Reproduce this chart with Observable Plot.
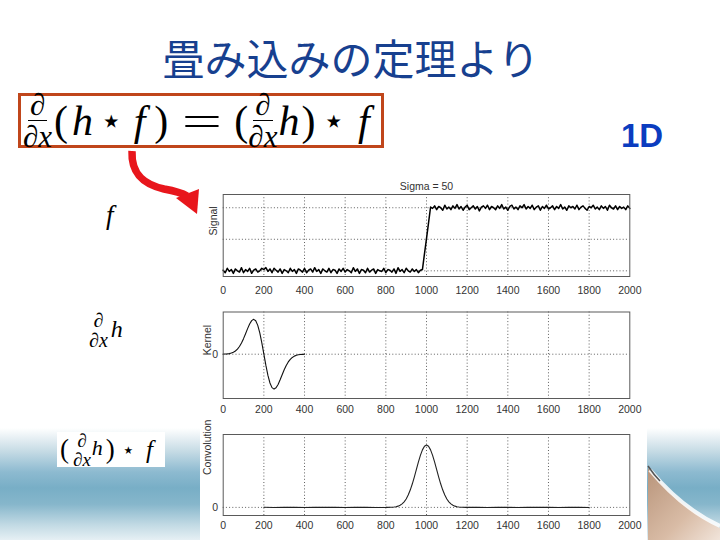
<!DOCTYPE html>
<html>
<head>
<meta charset="utf-8">
<script src="https://cdn.jsdelivr.net/npm/d3@7"></script>
<script src="https://cdn.jsdelivr.net/npm/@observablehq/plot@0.6"></script>
<style>
  html, body { margin: 0; padding: 0; background: #fff; }
  #page { position: relative; width: 720px; height: 540px; overflow: hidden; background: #fff; }
  .abs { position: absolute; }
  .serif, .serif i, .serif span { font-family: 'Liberation Serif', 'DejaVu Serif', 'Times New Roman', serif; color: #000; }
  .frac { display: inline-flex; flex-direction: column; align-items: center; line-height: 1; vertical-align: middle; }
  .frac .num { border-bottom: 1.4px solid #000; padding: 0 2px; }
  .serif .star { font-family: 'DejaVu Sans', sans-serif; }
  .eq { display: inline-block; width: 44px; text-align: center; transform: scale(1.7, 1); }
</style>
</head>
<body>
<div id="page">
  <!-- slide background band -->
  <div class="abs" style="left:0;top:420px;width:720px;height:120px;background:linear-gradient(to bottom,#ffffff 0px,#ffffff 8px,#c9dde6 30px,#8dbad0 52px,#78aec6 68px,#86b6cb 84px,#c2dae4 105px,#e6f0f4 120px);"></div>
  <svg class="abs" style="left:0;top:0" width="720" height="540">
    <defs>
      <linearGradient id="tan" x1="0" y1="0" x2="1" y2="1">
        <stop offset="0" stop-color="#b8947a"/>
        <stop offset="0.6" stop-color="#d9bca6"/>
        <stop offset="1" stop-color="#f1e4da"/>
      </linearGradient>
    </defs>
    <path d="M648,468 C668,492 692,514 720,528 L720,540 L648,540 Z" fill="url(#tan)"/>
    <path d="M650,470 C670,494 694,514 720,526" fill="none" stroke="#ffffff" stroke-width="4" stroke-opacity="0.85"/>
    <path d="M648,466 C652,472 656,477 660,481" fill="none" stroke="#555" stroke-width="1.5"/>
    <!-- red arrow -->
    <path d="M132,151 C131,176 146,185 164,189 C175,191 182,193 187,196" fill="none" stroke="#e8161c" stroke-width="7.5"/>
    <polygon points="176,198 199,189 197,214" fill="#e8161c"/>
  </svg>
  <!-- white figure area -->
  <div class="abs" style="left:200px;top:165px;width:447px;height:375px;background:#fff;"></div>

  <!-- title -->
  <div class="abs" style="left:351px;top:34px;transform:translateX(-50%);white-space:nowrap;font-family:'Noto Sans CJK JP',sans-serif;font-size:42px;line-height:46px;color:#17408f;">畳み込みの定理より</div>
  <div class="abs" style="left:621px;top:118px;font-family:'Liberation Sans',Arial,sans-serif;font-weight:bold;font-size:33px;line-height:36px;color:#0b3cbf;">1D</div>

  <!-- formula box -->
  <div class="abs serif" style="left:18px;top:93px;width:360px;height:49px;border:3px solid #c0461b;background:#fff;display:flex;align-items:center;font-size:42px;line-height:1;white-space:nowrap;">
    <span class="frac" style="font-size:31px;margin-left:2px;"><span class="num">∂</span><span>∂<i>x</i></span></span>
    <span style="margin-left:2px">(</span><i style="margin-left:4px">h</i>
    <span class="star" style="font-size:36px;margin-left:7px">⋆</span>
    <i style="margin-left:11px">f</i><span style="margin-left:9px">)</span>
    <span class="eq" style="margin-left:12px">=</span>
    <span style="margin-left:10px">(</span>
    <span class="frac" style="font-size:31px;"><span class="num">∂</span><span>∂<i>x</i></span></span>
    <i style="margin-left:1px">h</i><span style="margin-left:2px">)</span>
    <span class="star" style="font-size:36px;margin-left:7px">⋆</span>
    <i style="margin-left:13px">f</i>
  </div>

  <!-- left labels -->
  <div class="abs serif" style="left:106px;top:200px;font-size:27px;line-height:30px;"><i>f</i></div>
  <div class="abs serif" style="left:89px;top:310px;display:flex;align-items:center;font-size:24px;">
    <span class="frac" style="font-size:20px;"><span>∂</span><span>∂<i>x</i></span></span><i style="margin-left:3px;margin-top:-2px">h</i>
  </div>
  <div class="abs serif" style="left:57px;top:432px;width:108px;height:35px;background:#fff;display:flex;align-items:center;font-size:27px;white-space:nowrap;">
    <span style="margin-left:3px">(</span>
    <span class="frac" style="font-size:19px;margin-left:4px;"><span>∂</span><span>∂<i>x</i></span></span>
    <i style="font-size:22px;margin-top:-4px;margin-left:1px">h</i><span style="margin-left:3px">)</span>
    <span class="star" style="font-size:21px;margin-left:7px">⋆</span>
    <i style="font-size:25px;margin-left:11px">f</i>
  </div>

  <div id="p1" class="abs" style="left:190px;top:168px;"></div>
  <div id="p2" class="abs" style="left:190px;top:300px;"></div>
  <div id="p3" class="abs" style="left:190px;top:420px;"></div>
</div>

<script>
// ---------------- data ----------------
const xTicks = [0, 200, 400, 600, 800, 1000, 1200, 1400, 1600, 1800, 2000];
const xGrid = [200, 400, 600, 800, 1000, 1200, 1400, 1600, 1800];

// noisy step signal, sampled every 10 units from 0 to 2000
const signalStep = 10;
const signalY = [
  0.01,-0.03,0.04,-0.01,0.02,-0.04,0.03,0.00,-0.02,0.05,
  -0.03,0.02,-0.01,0.04,-0.04,0.01,0.03,-0.02,0.00,0.04,
  0.02,0.05,-0.01,0.03,-0.03,0.04,0.01,-0.02,0.03,-0.04,
  0.02,0.00,-0.03,0.04,-0.01,0.02,-0.04,0.03,0.01,-0.02,
  0.04,-0.03,0.01,0.03,-0.02,0.05,-0.01,0.02,-0.04,0.03,
  0.00,-0.02,0.04,-0.03,0.02,0.01,-0.04,0.03,-0.01,0.04,
  -0.02,0.02,0.00,-0.03,0.05,-0.01,0.03,-0.04,0.02,0.01,
  -0.03,0.04,-0.02,0.01,0.03,-0.04,0.02,0.00,-0.01,0.04,
  -0.03,0.02,0.01,-0.02,0.03,-0.04,0.05,-0.01,0.02,-0.03,
  0.04,0.00,-0.02,0.03,-0.01,0.02,-0.03,0.01,
  0.02,0.27,0.51,0.76,1.01,
  0.99,1.03,0.97,1.02,1.00,0.96,1.04,0.98,1.01,0.97,
  1.03,0.99,1.05,0.98,1.02,0.96,1.01,1.04,0.97,1.00,
  1.03,0.98,1.02,0.95,1.01,1.03,0.99,1.04,0.97,1.02,
  1.00,0.97,1.03,0.99,1.05,0.98,1.01,0.96,1.02,1.04,
  0.98,1.01,0.97,1.03,1.00,1.05,0.98,1.02,0.99,1.04,
  0.97,1.01,1.03,0.96,1.02,0.99,1.04,0.98,1.00,1.03,
  0.97,1.02,0.99,1.05,0.98,1.01,0.96,1.03,1.00,1.02,
  0.98,1.04,0.97,1.01,1.03,0.99,0.96,1.02,1.00,1.04,
  0.98,1.01,0.97,1.03,0.99,1.02,0.96,1.04,1.00,0.98,
  1.03,0.97,1.02,0.99,1.01,0.97,1.03,0.99
];

// derivative-of-Gaussian kernel, sampled every 10 units from 0 to 400
const kernelStep = 10;
const kernelY = [
  0.002,0.005,0.009,0.017,0.032,0.055,0.092,0.146,0.222,0.323,
  0.446,0.587,0.733,0.866,0.963,1.000,0.958,0.826,0.609,0.323,
  0.000,-0.323,-0.609,-0.826,-0.958,-1.000,-0.963,-0.866,-0.733,-0.587,
  -0.446,-0.323,-0.222,-0.146,-0.092,-0.055,-0.032,-0.017,-0.009,-0.005,
  -0.002
];

// convolution result
const convX = [200,250,300,350,400,450,500,550,600,650,700,750,
  800,810,820,830,840,850,860,870,880,890,900,910,920,930,940,950,960,970,980,990,
  1000,1010,1020,1030,1040,1050,1060,1070,1080,1090,1100,1110,1120,1130,1140,1150,1160,1170,1180,1190,1200,
  1250,1300,1350,1400,1450,1500,1550,1600,1650,1700,1750,1800];
const convY = [0.002,-0.001,0.001,0.000,-0.002,0.001,0.000,0.002,-0.001,0.001,0.000,-0.001,
  0.000,0.001,0.002,0.003,0.006,0.011,0.020,0.034,0.056,0.089,0.135,0.198,0.278,0.375,0.487,0.607,0.726,0.835,0.923,0.980,
  1.000,0.980,0.923,0.835,0.726,0.607,0.487,0.375,0.278,0.198,0.135,0.089,0.056,0.034,0.020,0.011,0.006,0.003,0.002,0.001,0.000,
  0.001,-0.001,0.002,0.000,-0.002,0.001,0.000,0.001,-0.001,0.002,0.000,-0.001];

const signalTitle = "Sigma = 50";
const yLabels = ["Signal", "Kernel", "Convolution"];

// ---------------- build ----------------
const signalData = signalY.map((v, i) => ({x: i * signalStep, y: v}));
const kernelData = kernelY.map((v, i) => ({x: i * kernelStep, y: v}));
const convData = convX.map((x, i) => ({x, y: convY[i]}));

const gridStyle = {stroke: "#222", strokeOpacity: 0.9, strokeWidth: 0.8, strokeDasharray: "1,2.2"};

function panel({data, yDomain, yGrid, yTicks, yTickFormat, ylabel, labelDx, title, height, marginTop, marginBottom, lineWidth, lineColor, xPad}) {
  const marks = [
    Plot.gridX(xGrid, gridStyle),
    Plot.gridY(yGrid, gridStyle),
    Plot.line(data, {x: "x", y: "y", stroke: lineColor, strokeWidth: lineWidth}),
    Plot.frame({stroke: "#5a5a5a", strokeWidth: 1}),
    Plot.axisX(xTicks, {tickSize: 0, tickPadding: xPad, tickFormat: d => String(d), label: null, fill: "#333", fontSize: 10.5}),
    Plot.axisY(yTicks, {tickSize: 0, tickPadding: 5, tickFormat: yTickFormat, label: null, fill: "#333", fontSize: 10.5}),
    Plot.text([ylabel], {frameAnchor: "left", rotate: -90, dx: labelDx, fontSize: 10.5, fill: "#333"})
  ];
  if (title) marks.push(Plot.text([title], {frameAnchor: "top", dy: -12, fontSize: 10.5, fill: "#333"}));
  return Plot.plot({
    width: 460, height,
    marginLeft: 32.7, marginRight: 20.7, marginTop, marginBottom,
    style: {background: "transparent", fontFamily: "'Liberation Sans', Arial, sans-serif", fontSize: "10.5px", color: "#333", overflow: "visible"},
    x: {domain: [0, 2000], label: null},
    y: {domain: yDomain, label: null},
    marks
  });
}

document.getElementById("p1").appendChild(panel({
  data: signalData, yDomain: [-0.09, 1.21], yGrid: [0, 0.5, 1], yTicks: [0, 0.5, 1], yTickFormat: () => "",
  ylabel: yLabels[0], labelDx: -10, title: signalTitle, height: 132, marginTop: 26, marginBottom: 24, lineWidth: 1.5, lineColor: "#000", xPad: 10
}));
document.getElementById("p2").appendChild(panel({
  data: kernelData, yDomain: [-1.27, 1.21], yGrid: [0], yTicks: [0], yTickFormat: d => String(d),
  ylabel: yLabels[1], labelDx: -16, title: null, height: 118, marginTop: 11.5, marginBottom: 20, lineWidth: 1.1, lineColor: "#111", xPad: 7
}));
document.getElementById("p3").appendChild(panel({
  data: convData, yDomain: [-0.13, 1.17], yGrid: [0], yTicks: [0], yTickFormat: d => String(d),
  ylabel: yLabels[2], labelDx: -16, title: null, height: 120, marginTop: 14, marginBottom: 25, lineWidth: 1.1, lineColor: "#222", xPad: 6
}));
</script>
</body>
</html>
